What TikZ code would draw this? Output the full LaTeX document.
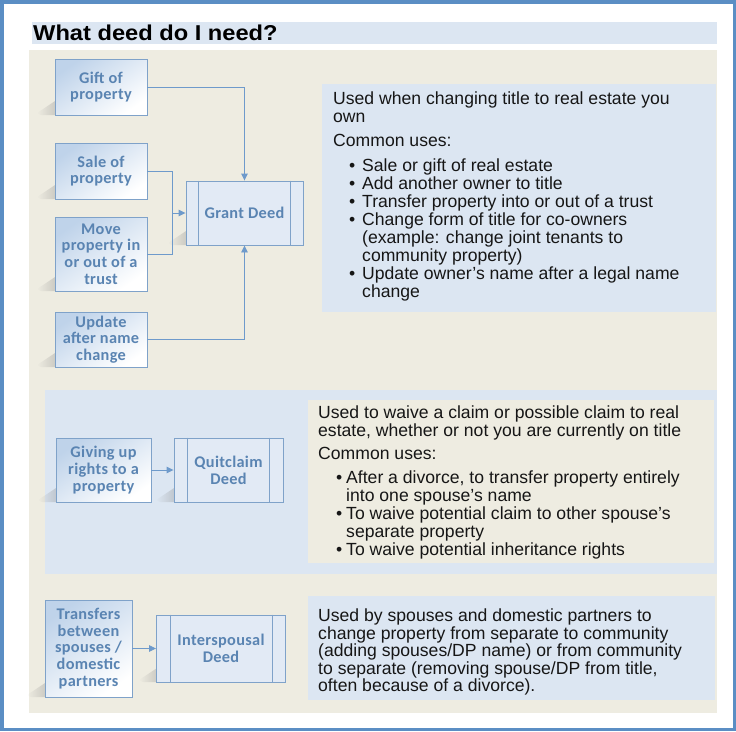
\documentclass[tikz,border=0pt]{standalone}
\usepackage{fontspec}
\usepackage{graphicx}
\setmainfont{Liberation Sans}
\newfontfamily\boxfont[LetterSpace=2]{Carlito}
\usetikzlibrary{arrows.meta,calc,fadings}
\definecolor{framec}{HTML}{5B8EC4}
\definecolor{paleblue}{HTML}{DCE6F2}
\definecolor{beige}{HTML}{EEECE1}
\definecolor{boxborder}{HTML}{7FA2C9}
\definecolor{boxtext}{HTML}{5A84B2}
\definecolor{boxtop}{HTML}{BFD3EA}
\definecolor{deedfill}{HTML}{E2EAF5}
\definecolor{linec}{HTML}{6E9ACB}
\definecolor{txtc}{HTML}{161616}
\tikzset{
  srcbox/.style={draw=boxborder, line width=0.9pt, top color=boxtop, bottom color=white,
    shading angle=35, font={\boxfont\bfseries\fontsize{16.3}{16.7}\selectfont},
    text=boxtext, align=center, inner sep=0pt},
  deedbox/.style={draw=boxborder, line width=0.9pt, fill=deedfill,
    font={\boxfont\bfseries\fontsize{16.3}{16.7}\selectfont},
    text=boxtext, align=center, inner sep=0pt},
  conn/.style={draw=linec, line width=0.9pt},
  arr/.style={conn, -{Triangle[length=7pt,width=6.5pt]}},
  bodytxt/.style={font={\fontsize{17.6}{18}\selectfont}, text=txtc, align=left,
    inner sep=0pt, anchor=north west},
  shad/.style={fill=black!50, opacity=0.3, path fading=west},
}
\newcommand{\bl}{\hspace*{16pt}\makebox[13pt][l]{•}}
\newcommand{\bc}{\hspace*{29pt}}
\newcommand{\blb}{\hspace*{18pt}\makebox[10pt][l]{•}}
\newcommand{\bcb}{\hspace*{28pt}}
\begin{document}
\begin{tikzpicture}[x=1pt,y=-1pt]
\useasboundingbox (0,0) rectangle (736,731);
% frame
\fill[white] (0,0) rectangle (736,731);
\draw[framec, line width=3.5pt] (1.75,1.75) rectangle (734.25,729.25);
% title
\fill[paleblue] (32,22) rectangle (717,44);
\node[anchor=base west, inner sep=0pt, font={\bfseries\fontsize{21.5}{21.5}\selectfont}, text=black] (title) at (33,40) {\scalebox{1.1}[1]{What deed do I need?}};
% beige background
\fill[beige] (29,50) rectangle (717,713);
% section 1 text box
\fill[paleblue] (322,84) rectangle (716,312);
\node[bodytxt] (t1) at (333,92) {Used when changing title to real estate you\\own\\[6pt]
Common uses:\\[7pt]
\bl Sale or gift of real estate\\
\bl Add another owner to title\\
\bl Transfer property into or out of a trust\\
\bl Change form of title for co-owners\\
\bc (example: change joint tenants to\\
\bc community property)\\
\bl Update owner’s name after a legal name\\
\bc change};
% section 2 band
\fill[paleblue] (45,390) rectangle (717,574);
\fill[beige] (308,400) rectangle (714,563);
\node[bodytxt] (t2) at (318,406) {Used to waive a claim or possible claim to real\\
estate, whether or not you are currently on title\\[5pt]
Common uses:\\[6pt]
\blb After a divorce, to transfer property entirely\\
\bcb into one spouse’s name\\
\blb To waive potential claim to other spouse’s\\
\bcb separate property\\
\blb To waive potential inheritance rights};
% section 3 text box
\fill[paleblue] (308,596) rectangle (715,700);
\node[bodytxt, font={\fontsize{17.6}{17.5}\selectfont}] (t3) at (318,609) {Used by spouses and domestic partners to\\
change property from separate to community\\
(adding spouses/DP name) or from community\\
to separate (removing spouse/DP from title,\\
often because of a divorce).};
% shadows
\foreach \xa/\yb in {55/115, 55/199, 55/291, 55/367, 186/245, 56/502, 174/502, 45/697, 157/682}{
  \fill[shad] (\xa-18,\yb-2) -- (\xa,\yb-14) -- (\xa,\yb) -- (\xa-14,\yb) -- cycle;
}
% section 1 boxes
\node[srcbox, minimum width=92pt, minimum height=56pt] (gift) at (101,87) {Gift of\\property};
\node[srcbox, minimum width=92pt, minimum height=56pt] (sale) at (101,171) {Sale of\\property};
\node[srcbox, minimum width=92pt, minimum height=74pt] (move) at (101,254) {Move\\property in\\or out of a\\trust};
\node[srcbox, minimum width=92pt, minimum height=55pt] (upd) at (101,339.5) {Update\\after name\\change};
\node[deedbox, minimum width=117pt, minimum height=64pt] (grant) at (244.5,213) {Grant Deed};
\draw[boxborder, line width=0.9pt] ($(grant.north west)+(13,0)$) -- ($(grant.south west)+(13,0)$);
\draw[boxborder, line width=0.9pt] ($(grant.north east)+(-13,0)$) -- ($(grant.south east)+(-13,0)$);
\coordinate (j) at (172,213);
\draw[arr] (gift.east) -| (grant.north);
\draw[conn] (sale.east) -| (j);
\draw[conn] (move.east) -| (j);
\draw[arr] (j) -- (grant.west);
\draw[arr] (upd.east) -| (grant.south);
% section 2 boxes
\node[srcbox, minimum width=95pt, minimum height=64pt] (give) at (103.5,470) {Giving up\\rights to a\\property};
\node[deedbox, minimum width=109pt, minimum height=64pt] (quit) at (228.5,470) {Quitclaim\\Deed};
\draw[boxborder, line width=0.9pt] ($(quit.north west)+(14,0)$) -- ($(quit.south west)+(14,0)$);
\draw[boxborder, line width=0.9pt] ($(quit.north east)+(-14,0)$) -- ($(quit.south east)+(-14,0)$);
\draw[arr] (give.east) -- (quit.west);
% section 3 boxes
\node[srcbox, minimum width=87pt, minimum height=97pt] (trans) at (88.5,648.5) {Transfers\\between\\spouses /\\domestic\\partners};
\node[deedbox, minimum width=129pt, minimum height=67pt] (inter) at (221,648.5) {Interspousal\\Deed};
\draw[boxborder, line width=0.9pt] ($(inter.north west)+(14,0)$) -- ($(inter.south west)+(14,0)$);
\draw[boxborder, line width=0.9pt] ($(inter.north east)+(-14,0)$) -- ($(inter.south east)+(-14,0)$);
\draw[arr] (trans.east) -- (inter.west);
\end{tikzpicture}
\end{document}
